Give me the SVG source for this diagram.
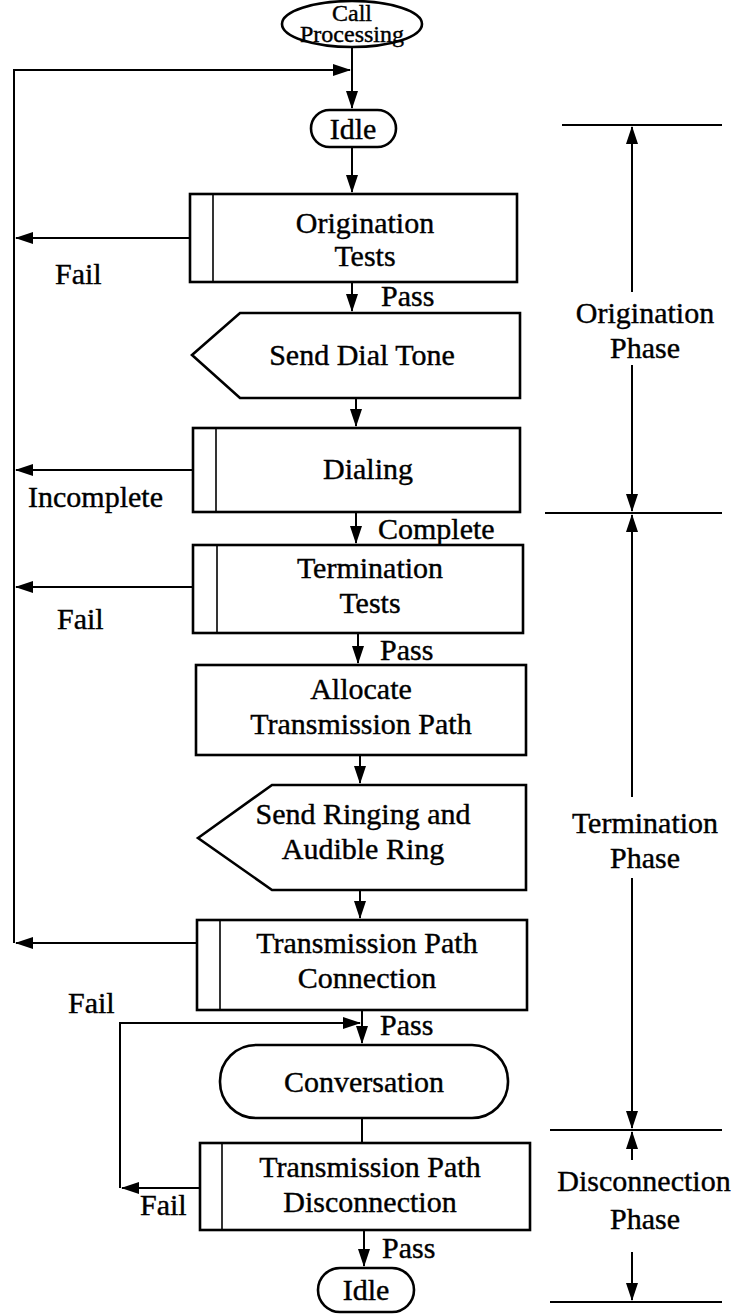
<svg xmlns="http://www.w3.org/2000/svg" width="734" height="1315" viewBox="0 0 734 1315">
<defs>
<marker id="ah" markerUnits="userSpaceOnUse" markerWidth="18" markerHeight="12" refX="17" refY="6" orient="auto">
<path d="M0,0 L18,6 L0,12 Z" fill="#000"/>
</marker>
<style>
.n{fill:#fff;stroke:#000;stroke-width:2.6}
.s{fill:none;stroke:#000;stroke-width:1.6}
.c{fill:none;stroke:#000;stroke-width:2}
.a{fill:none;stroke:#000;stroke-width:2;marker-end:url(#ah)}
text{font-family:"Liberation Serif","Times New Roman",serif;font-size:30px;fill:#000;stroke:#000;stroke-width:0.4}
.m{text-anchor:middle}
.cp{font-size:24px}
</style>
</defs>
<rect width="734" height="1315" fill="#fff"/>
<g id="connectors">
<path class="a" d="M352,47 V108"/>
<path class="a" d="M14,943 V70 H350"/>
<path class="a" d="M352,147 V192"/>
<path class="a" d="M190,238 H16"/>
<path class="a" d="M352,282 V311"/>
<path class="a" d="M356,398 V426"/>
<path class="a" d="M193,470 H16"/>
<path class="a" d="M356,512 V543"/>
<path class="a" d="M193,587 H16"/>
<path class="a" d="M358,633 V663"/>
<path class="a" d="M360,755 V783"/>
<path class="a" d="M360,890 V918"/>
<path class="a" d="M197,943 H16"/>
<path class="a" d="M362,1010 V1043"/>
<path class="a" d="M120,1188 V1023 H360"/>
<path class="a" d="M200,1188 H122"/>
<path class="c" d="M362,1118 V1143"/>
<path class="a" d="M364,1230 V1266"/>
</g>
<g id="phases">
<path class="c" d="M562,125 H722 M545,513 H722 M550,1130 H722 M550,1302 H722"/>
<path class="a" d="M632,292 V127"/>
<path class="a" d="M632,365 V511"/>
<path class="a" d="M632,797 V515"/>
<path class="a" d="M632,878 V1128"/>
<path class="a" d="M632,1160 V1132"/>
<path class="a" d="M632,1252 V1300"/>
<text class="m" x="645" y="323">Origination</text>
<text class="m" x="645" y="358">Phase</text>
<text class="m" x="645" y="833">Termination</text>
<text class="m" x="645" y="868">Phase</text>
<text class="m" x="644" y="1191">Disconnection</text>
<text class="m" x="645" y="1229">Phase</text>
</g>
<g id="call-processing">
<ellipse class="n" cx="352" cy="24" rx="70" ry="23"/>
<text class="m cp" x="352" y="21">Call</text>
<text class="m cp" x="352" y="42">Processing</text>
</g>
<g id="idle-top">
<rect class="n" x="311" y="110" width="85" height="37" rx="18.5"/>
<text class="m" x="353" y="139">Idle</text>
</g>
<g id="origination-tests">
<rect class="n" x="190" y="194" width="327" height="88"/>
<line class="s" x1="213" y1="194" x2="213" y2="282"/>
<text class="m" x="365" y="233">Origination</text>
<text class="m" x="365" y="266">Tests</text>
<text x="55" y="284">Fail</text>
<text x="381" y="306">Pass</text>
</g>
<g id="send-dial-tone">
<path class="n" d="M192,355 L240,313 H520 V398 H240 Z"/>
<text class="m" x="362" y="365">Send Dial Tone</text>
</g>
<g id="dialing">
<rect class="n" x="193" y="428" width="327" height="84"/>
<line class="s" x1="216" y1="428" x2="216" y2="512"/>
<text class="m" x="368" y="479">Dialing</text>
<text x="28" y="507">Incomplete</text>
<text x="378" y="539">Complete</text>
</g>
<g id="termination-tests">
<rect class="n" x="193" y="545" width="330" height="88"/>
<line class="s" x1="217" y1="545" x2="217" y2="633"/>
<text class="m" x="370" y="578">Termination</text>
<text class="m" x="370" y="613">Tests</text>
<text x="57" y="629">Fail</text>
<text x="380" y="660">Pass</text>
</g>
<g id="allocate">
<rect class="n" x="196" y="665" width="330" height="90"/>
<text class="m" x="361" y="699">Allocate</text>
<text class="m" x="361" y="734">Transmission Path</text>
</g>
<g id="send-ringing">
<path class="n" d="M198,838 L272,785 H526 V890 H272 Z"/>
<text class="m" x="363" y="824">Send Ringing and</text>
<text class="m" x="363" y="859">Audible Ring</text>
</g>
<g id="tp-connection">
<rect class="n" x="197" y="920" width="330" height="90"/>
<line class="s" x1="220" y1="920" x2="220" y2="1010"/>
<text class="m" x="367" y="953">Transmission Path</text>
<text class="m" x="367" y="988">Connection</text>
<text x="68" y="1013">Fail</text>
<text x="380" y="1035">Pass</text>
</g>
<g id="conversation">
<rect class="n" x="220" y="1045" width="288" height="73" rx="36"/>
<text class="m" x="364" y="1092">Conversation</text>
</g>
<g id="tp-disconnection">
<rect class="n" x="200" y="1143" width="330" height="87"/>
<line class="s" x1="222" y1="1143" x2="222" y2="1230"/>
<text class="m" x="370" y="1177">Transmission Path</text>
<text class="m" x="370" y="1212">Disconnection</text>
<text x="140" y="1215">Fail</text>
<text x="382" y="1258">Pass</text>
</g>
<g id="idle-bottom">
<rect class="n" x="318" y="1268" width="96" height="44" rx="22"/>
<text class="m" x="366" y="1300">Idle</text>
</g>
</svg>
